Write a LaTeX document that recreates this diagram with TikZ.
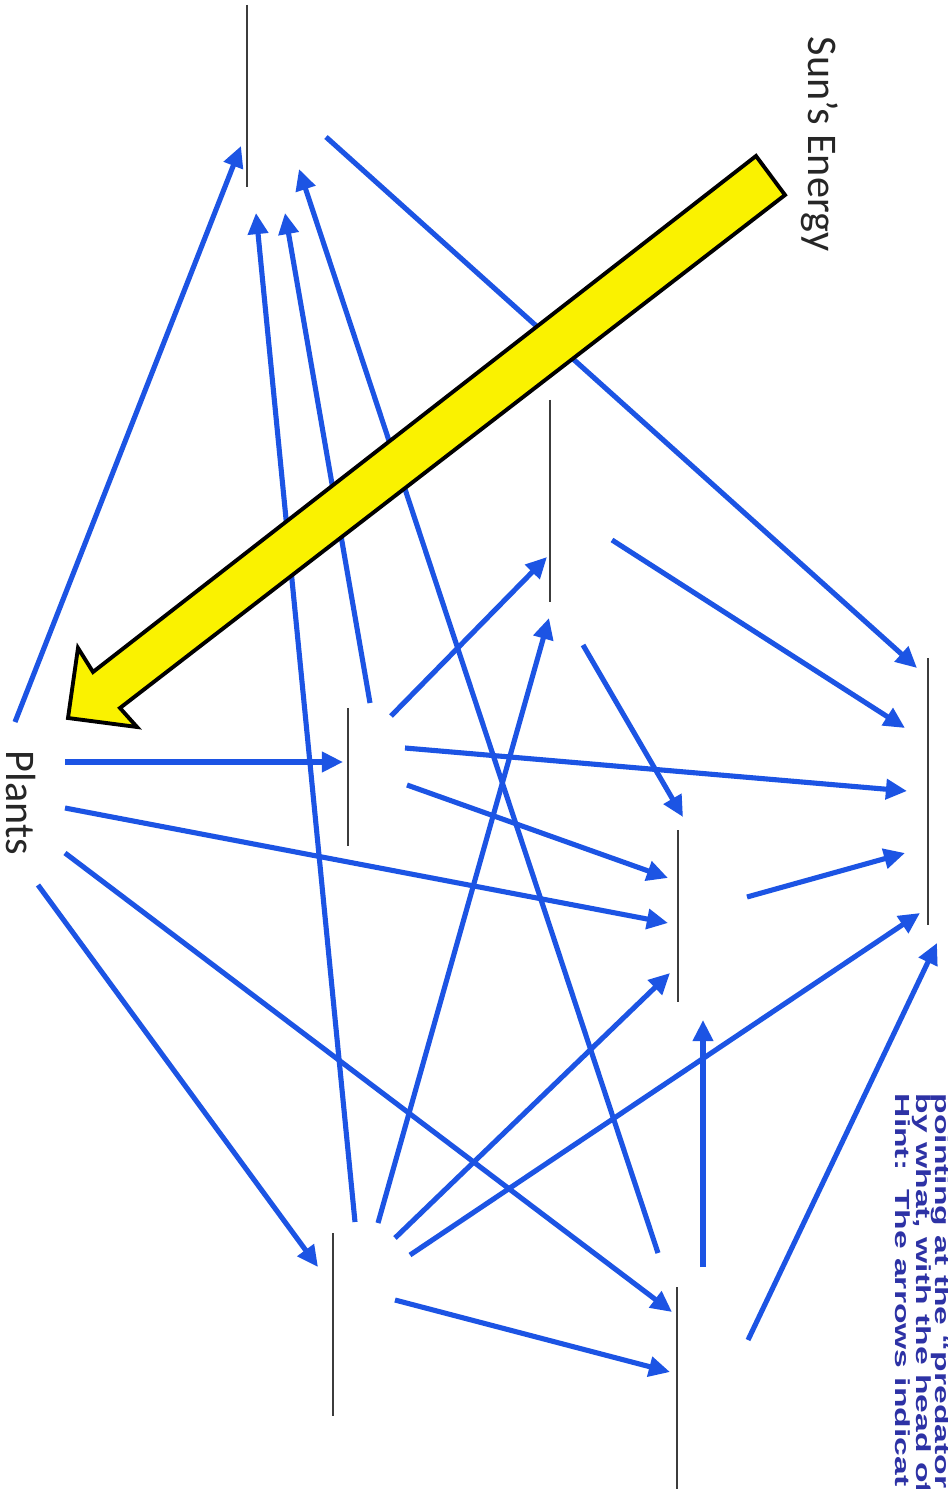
\documentclass[tikz,border=0pt]{standalone}
\usepackage{fontspec}
\setmainfont{Carlito}
\newfontfamily\hintfont{Liberation Sans}
\usetikzlibrary{arrows.meta}
\definecolor{arrblue}{RGB}{28,84,228}
\definecolor{hintblue}{RGB}{45,50,165}
\definecolor{blankgray}{RGB}{60,60,60}
\definecolor{sunyellow}{RGB}{250,242,0}
\tikzset{
  feed/.style={draw=arrblue, line width=1.45pt, -{Triangle[length=6pt,width=5.6pt]}},
  blankline/.style={draw=blankgray, line width=0.7pt},
  sunarrow/.style={draw=black, fill=sunyellow, line width=1.1pt, line join=miter},
  label/.style={rotate=-90, anchor=base, inner sep=0pt, font=\fontsize{12}{14}\selectfont, text=black!85},
  hint/.style={rotate=-90, anchor=west, inner sep=0pt, text=hintblue,
    font=\hintfont\bfseries\fontsize{5.8}{7}\selectfont}
}
\begin{document}
\begin{tikzpicture}[x=0.01cm, y=-0.01cm]
\useasboundingbox (0,0) rectangle (947,1489);
\fill[white] (0,0) rectangle (947,1489);

% answer blanks
\coordinate (topA) at (247,5);     \coordinate (topB) at (247,187);
\coordinate (midA) at (550,400);   \coordinate (midB) at (550,602);
\coordinate (lmA) at (348,708);    \coordinate (lmB) at (348,846);
\coordinate (crA) at (678,830);    \coordinate (crB) at (678,1002);
\coordinate (rtA) at (928,658);    \coordinate (rtB) at (928,925);
\coordinate (blA) at (333,1233);   \coordinate (blB) at (333,1416);
\coordinate (brA) at (677,1287);   \coordinate (brB) at (677,1489);
\draw[blankline] (topA) -- (topB);
\draw[blankline] (midA) -- (midB);
\draw[blankline] (lmA) -- (lmB);
\draw[blankline] (crA) -- (crB);
\draw[blankline] (rtA) -- (rtB);
\draw[blankline] (blA) -- (blB);
\draw[blankline] (brA) -- (brB);

% arrow end points
\coordinate (a1s) at (15,722);    \coordinate (a1e) at (241,146);
\coordinate (a2s) at (355,1222);  \coordinate (a2e) at (256,213);
\coordinate (a3s) at (370,703);   \coordinate (a3e) at (285,213);
\coordinate (a4s) at (658,1253);  \coordinate (a4e) at (299,169);
\coordinate (a5s) at (326,137);   \coordinate (a5e) at (917,668);
\coordinate (a6s) at (612,540);   \coordinate (a6e) at (905,728);
\coordinate (a7s) at (583,645);   \coordinate (a7e) at (683,817);
\coordinate (a8s) at (391,716);   \coordinate (a8e) at (547,557);
\coordinate (a9s) at (378,1223);  \coordinate (a9e) at (549,618);
\coordinate (a10s) at (65,762);   \coordinate (a10e) at (343,762);
\coordinate (a11s) at (405,748);  \coordinate (a11e) at (907,791);
\coordinate (a12s) at (407,785);  \coordinate (a12e) at (668,878);
\coordinate (a13s) at (65,808);   \coordinate (a13e) at (668,923);
\coordinate (a14s) at (65,853);   \coordinate (a14e) at (672,1312);
\coordinate (a15s) at (38,885);   \coordinate (a15e) at (318,1267);
\coordinate (a16s) at (747,897);  \coordinate (a16e) at (905,853);
\coordinate (a17s) at (410,1255); \coordinate (a17e) at (920,913);
\coordinate (a18s) at (748,1340); \coordinate (a18e) at (937,943);
\coordinate (a19s) at (395,1238); \coordinate (a19e) at (670,973);
\coordinate (a20s) at (703,1267); \coordinate (a20e) at (703,1020);
\coordinate (a21s) at (395,1300); \coordinate (a21e) at (670,1372);

\foreach \i in {1,...,21} {
  \draw[feed] (a\i s) -- (a\i e);
}

% sun's energy arrow
\coordinate (y1) at (756,156);
\coordinate (y2) at (785,195);
\coordinate (y3) at (120,708);
\coordinate (y4) at (137,727);
\coordinate (y5) at (68,718);
\coordinate (y6) at (78,648);
\coordinate (y7) at (93,672);
\draw[sunarrow] (y1) -- (y2) -- (y3) -- (y4) -- (y5) -- (y6) -- (y7) -- cycle;

% labels
\node[label] (sun) at (808,144) {Sun’s Energy};
\node[label] (plants) at (7,803) {Plants};

% hint
\node[hint] (hint1) at (903,1093) {\scalebox{1.65}[1]{Hint:\ \ The arrows indicat}};
\node[hint] (hint2) at (922,1093) {\scalebox{1.65}[1]{by what, with the head of t}};
\node[hint] (hint3) at (941,1093) {\scalebox{1.65}[1]{pointing at the “predator”}};
\end{tikzpicture}
\end{document}
